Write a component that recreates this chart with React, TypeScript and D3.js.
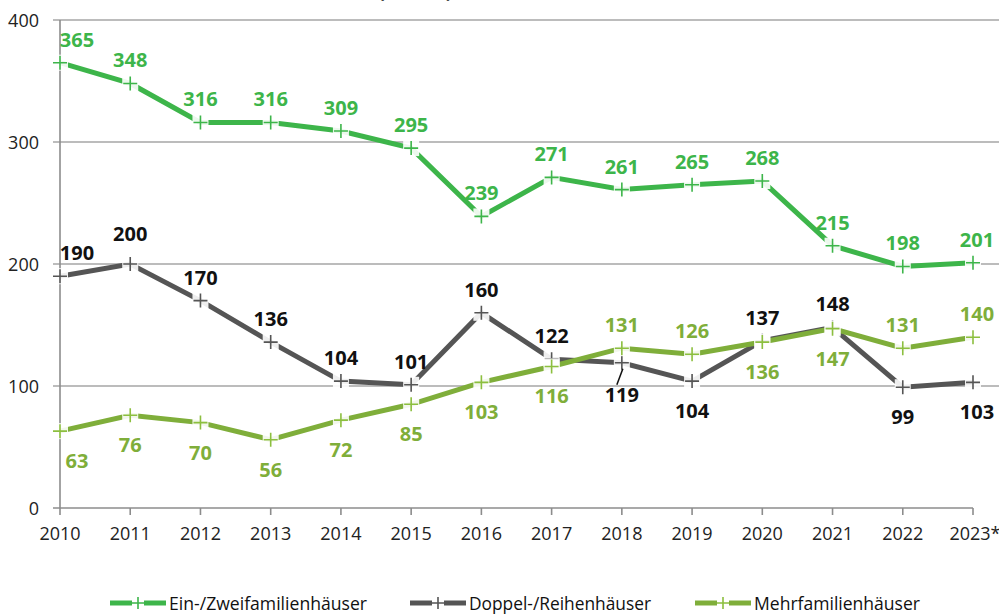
import React, { useEffect } from "react";
import * as d3 from "d3";

const years = ["2010","2011","2012","2013","2014","2015","2016","2017","2018","2019","2020","2021","2022","2023*"];
const einZwei = [365,348,316,316,309,295,239,271,261,265,268,215,198,201];
const doppel = [190,200,170,136,104,101,160,122,119,104,137,148,99,103];
const mehr = [63,76,70,56,72,85,103,116,131,126,136,147,131,140];
// label placement: a = above, b = below
const einPos = ["a","a","a","a","a","a","a","a","a","a","a","a","a","a"];
const doppelPos = ["a","a","a","a","a","a","a","a","b","b","a","a","b","b"];
const mehrPos = ["b","b","b","b","b","b","b","b","a","a","b","b","a","a"];
const yTicks = [0,100,200,300,400];
const seriesNames = ["Ein-/Zweifamilienhäuser","Doppel-/Reihenhäuser","Mehrfamilienhäuser"];
const title = "Wohnbauten nach Bauart (Anzahl)";

const W = 999, H = 615;
const FONT = "'Open Sans', 'Noto Sans', sans-serif";

export default function App() {
  useEffect(() => { document.body.style.margin = "0"; }, []);
  const x = d3.scalePoint<string>().domain(years).range([60, 973]);
  const y = d3.scaleLinear().domain([0, 400]).range([508, 20]);
  const line = d3.line<number>().x((_, i) => x(years[i])!).y(d => y(d));

  const series = [
    { name: seriesNames[0], data: einZwei, pos: einPos, color: "#3db54a", labelColor: "#3db54a", markColor: "#3db54a" },
    { name: seriesNames[1], data: doppel, pos: doppelPos, color: "#555555", labelColor: "#111111", markColor: "#555555" },
    { name: seriesNames[2], data: mehr, pos: mehrPos, color: "#7fae3a", labelColor: "#7fae3a", markColor: "#8cbf3f" },
  ];

  const legendX = [110, 410, 695];

  return (
    <svg width={W} height={H} style={{ position: "absolute", left: 0, top: 0, background: "#fff" }} fontFamily={FONT}>
      <text x={452} y={-2.5} textAnchor="end" fontWeight="bold" fontSize={18} fill="#111">{title}</text>
      {yTicks.filter(t => t > 0).map(t => (
        <line key={t} x1={53} x2={W} y1={y(t)} y2={y(t)} stroke="#a6a6a6" strokeWidth={1.6} />
      ))}
      <line x1={60} x2={60} y1={y(400)} y2={y(0)} stroke="#8c8c8c" strokeWidth={1.6} />
      <line x1={53} x2={973} y1={y(0)} y2={y(0)} stroke="#8c8c8c" strokeWidth={1.6} />
      {years.map(yr => (
        <line key={yr} x1={x(yr)} x2={x(yr)} y1={y(0)} y2={y(0) + 7} stroke="#8c8c8c" strokeWidth={1.6} />
      ))}
      {yTicks.map(t => (
        <text key={t} x={39} y={y(t) + 6.5} textAnchor="end" fontSize={18} fill="#222">{t}</text>
      ))}
      {years.map(yr => (
        <text key={yr} x={x(yr)! + (yr.endsWith("*") ? 2 : 0)} y={540} textAnchor="middle" fontSize={18} fill="#222">{yr}</text>
      ))}
      {series.map(s => (
        <path key={s.name} d={line(s.data)!} fill="none" stroke={s.color} strokeWidth={5} strokeLinejoin="miter" />
      ))}
      {series.map(s => s.data.map((v, i) => (
        <g key={s.name + i} transform={`translate(${x(years[i])},${y(v)})`}>
          <rect x={-8} y={-8} width={16} height={16} fill="#fff" opacity={0.9} />
          <path d="M-7,0H7M0,-7V7" stroke={s.markColor} strokeWidth={1.6} />
        </g>
      )))}
      <line x1={x("2018")! - 5} x2={x("2018")! + 1} y1={y(119) + 22} y2={y(119) + 6} stroke="#111" strokeWidth={1.5} />
      {series.map(s => s.data.map((v, i) => {
        const above = s.pos[i] === "a";
        const dx = i === 0 ? 17 : (i === years.length - 1 ? 4 : 0);
        let dy = above ? -16 : 37;
        if (s.name === seriesNames[1] && i === 1) dy = -23;
        if (s.name === seriesNames[1] && i === 8) dy = 39;
        return (
          <text key={s.name + "l" + i} x={x(years[i])! + dx} y={y(v) + dy} textAnchor="middle"
            fontWeight="bold" fontSize={20} fill={s.labelColor}>{v}</text>
        );
      }))}
      {series.map((s, k) => (
        <g key={s.name + "leg"} transform={`translate(${legendX[k]},603)`}>
          <line x1={0} x2={22} y1={0} y2={0} stroke={s.color} strokeWidth={5} />
          <line x1={34} x2={56} y1={0} y2={0} stroke={s.color} strokeWidth={5} />
          <path d="M22,0H34M28,-6V6" stroke={s.markColor} strokeWidth={1.6} />
          <text x={59} y={7} fontSize={18} fill="#111" textLength={s.name === seriesNames[0] ? 198 : s.name === seriesNames[1] ? 182 : 166} lengthAdjust="spacingAndGlyphs">{s.name}</text>
        </g>
      ))}
    </svg>
  );
}
